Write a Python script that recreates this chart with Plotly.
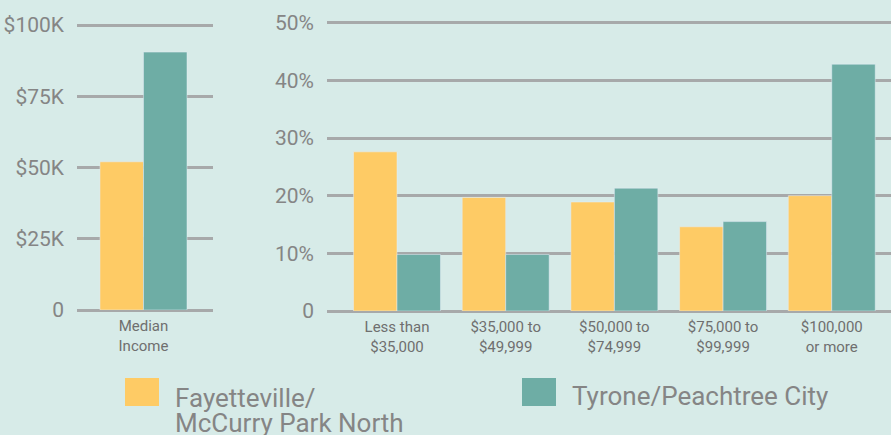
import plotly.graph_objects as go

series_names = ["Fayetteville/<br>McCurry Park North", "Tyrone/Peachtree City"]
median_cat = ["Median<br>Income"]
median_fay = [52000]
median_tyr = [90500]
dist_cats = ["Less than<br>$35,000", "$35,000 to<br>$49,999", "$50,000 to<br>$74,999",
             "$75,000 to<br>$99,999", "$100,000<br>or more"]
dist_fay = [27.6, 19.7, 18.9, 14.6, 20.0]
dist_tyr = [9.8, 9.8, 21.3, 15.5, 42.8]
money_ticks = [0, 25000, 50000, 75000, 100000]
money_labels = ["0", "$25K", "$50K", "$75K", "$100K"]
pct_ticks = [0, 10, 20, 30, 40, 50]
pct_labels = ["0", "10%", "20%", "30%", "40%", "50%"]

BG = "#d7ebe8"
YEL = "#fecb65"
TEAL = "#6eada5"
GRID = "#a7a9aa"
TXT = "#858585"
COND = "Roboto"
REG = "Roboto"

fig = go.Figure()
fig.add_bar(x=median_cat, y=median_fay, marker_color=YEL, xaxis="x", yaxis="y", name=series_names[0])
fig.add_bar(x=median_cat, y=median_tyr, marker_color=TEAL, xaxis="x", yaxis="y", name=series_names[1])
fig.add_bar(x=dist_cats, y=dist_fay, marker_color=YEL, xaxis="x2", yaxis="y2", name=series_names[0])
fig.add_bar(x=dist_cats, y=dist_tyr, marker_color=TEAL, xaxis="x2", yaxis="y2", name=series_names[1])

W, H = 891, 435
ax_common = dict(showgrid=True, gridcolor=GRID, gridwidth=3, zeroline=True, zerolinecolor=GRID,
                 zerolinewidth=3, showline=False, ticks="", automargin=False,
                 tickfont=dict(family=COND, size=21, color=TXT))
xa_common = dict(showgrid=False, zeroline=False, showline=False, ticks="", automargin=False,
                 ticklabelstandoff=5, tickfont=dict(family=REG, size=15, color="#6f6f6f"))

fig.update_layout(
    width=W, height=H, margin=dict(l=0, r=0, t=0, b=0, pad=0), autosize=False,
    paper_bgcolor=BG, plot_bgcolor=BG, showlegend=False,
    barmode="group", bargap=0.2, bargroupgap=0,
    xaxis=dict(domain=[77 / W, 213 / W], range=[-0.611, 0.639], anchor="y", **xa_common),
    yaxis=dict(domain=[1 - 310 / H, 1 - 22.15 / H], range=[0, 101000], tickvals=money_ticks,
               ticktext=money_labels, anchor="x", ticklabelstandoff=12, **ax_common),
    xaxis2=dict(domain=[327 / W, 1.0], range=[-0.644, 4.545], anchor="y2", **xa_common),
    yaxis2=dict(domain=[1 - 311 / H, 1 - 19.8 / H], range=[0, 50.5], tickvals=pct_ticks,
                ticktext=pct_labels, anchor="x2", ticklabelstandoff=12, **ax_common),
)

# legend drawn manually (squares + text lines)
leg = [(125, 159, YEL, series_names[0], [398, 423]), (522, 556, TEAL, series_names[1], [396])]
for x0, x1, col, name, ys in leg:
    fig.add_shape(type="rect", xref="paper", yref="paper", x0=x0 / W, x1=x1 / W,
                  y0=1 - 406 / H, y1=1 - 378 / H, fillcolor=col, line_width=0)
    for line, yc in zip(name.split("<br>"), ys):
        fig.add_annotation(xref="paper", yref="paper", x=(x1 + 14) / W, y=1 - yc / H,
                           xanchor="left", yanchor="middle", text=line, showarrow=False,
                           align="left", font=dict(family=REG, size=26, color=TXT))

fig.write_html("out.html", config={"displayModeBar": False},
               post_script="document.body.style.margin='0';")
